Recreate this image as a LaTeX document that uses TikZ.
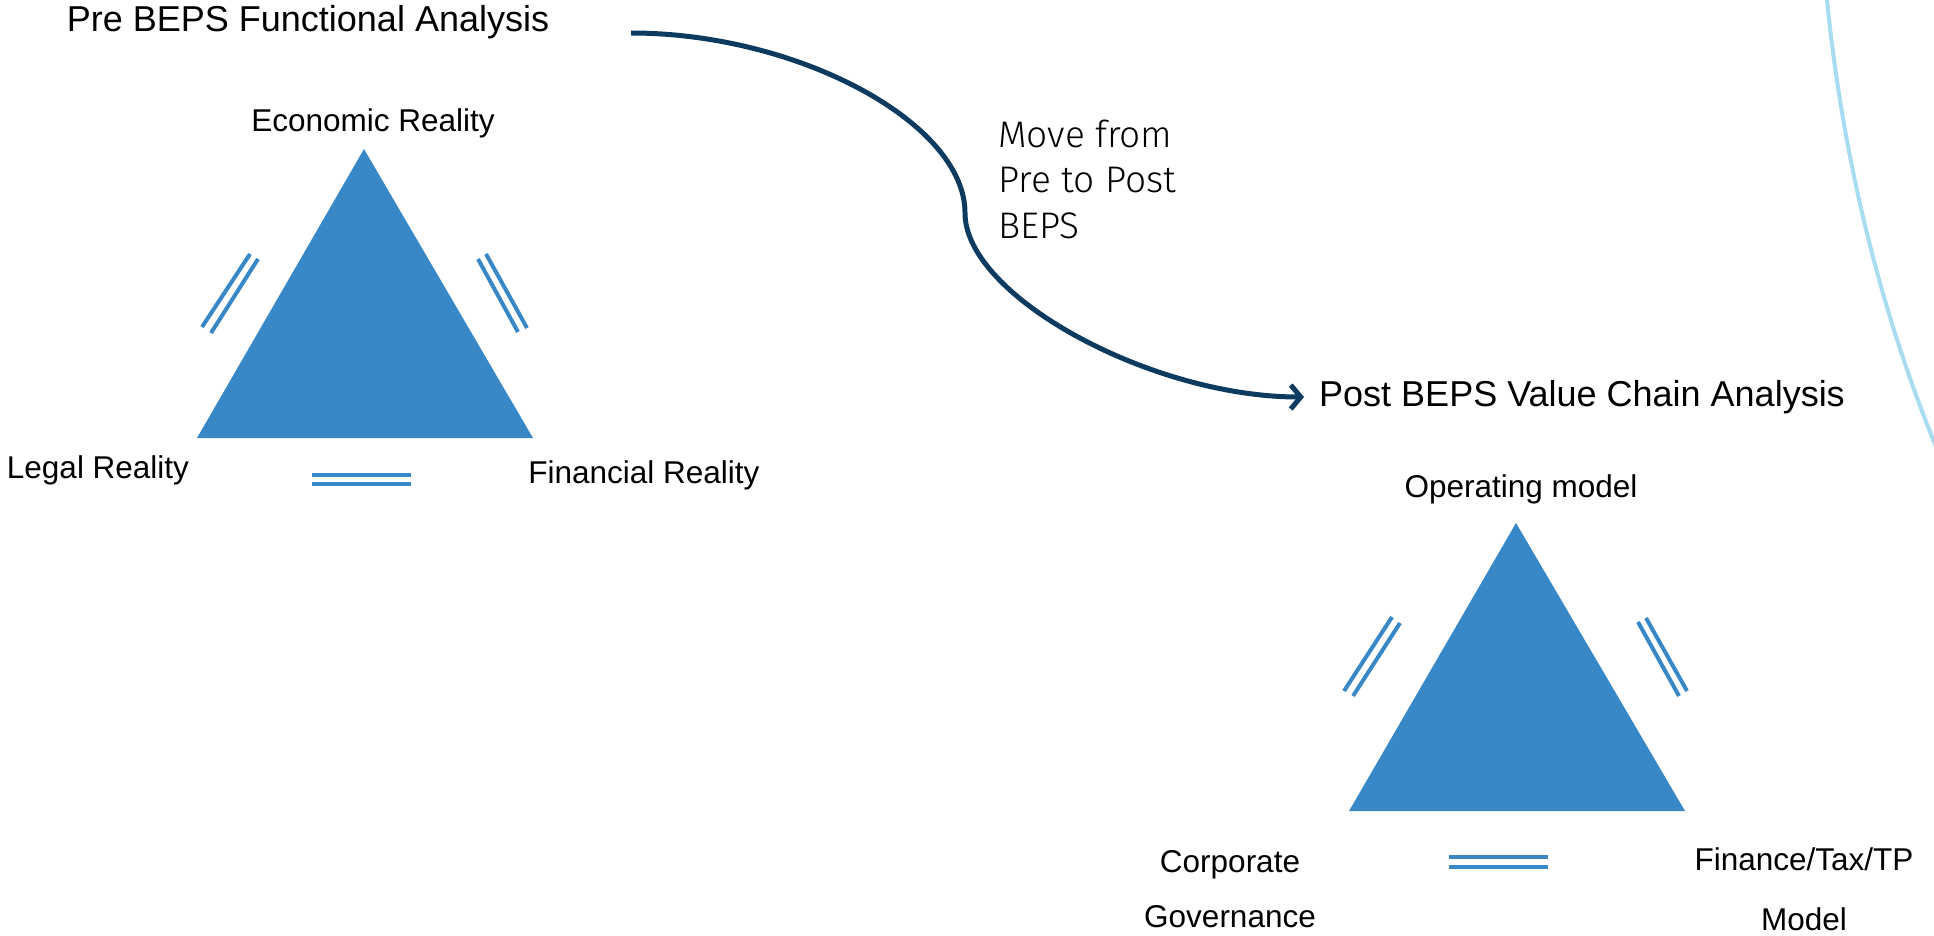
\documentclass[tikz,border=0pt]{standalone}
\usepackage{fontspec}
\setmainfont{Liberation Sans}
\newfontfamily\lightfont{Fira Sans Light}
\usetikzlibrary{arrows.meta}
\definecolor{triblue}{HTML}{3888C8}
\definecolor{navy}{HTML}{0D3A5F}
\definecolor{arcblue}{HTML}{A8DCF0}
\begin{document}
\begin{tikzpicture}[x=1pt,y=-1pt,
  tri/.style={fill=triblue,draw=none},
  eqline/.style={draw=triblue,line width=4pt},
  lbl/.style={font=\fontsize{31.5}{37}\selectfont,anchor=base,inner sep=0pt},
  ttl/.style={font=\fontsize{36}{43}\selectfont,anchor=base,inner sep=0pt},
  movetxt/.style={font=\lightfont\fontsize{37}{45}\selectfont,anchor=base west,inner sep=0pt},
  flow/.style={draw=navy,line width=5pt,-{Straight Barb[length=10pt,width=24pt,line width=5pt]}}
]
\useasboundingbox (0,0) rectangle (1934,936);
% light decorative arc
\begin{scope}
\clip (0,0) rectangle (1934,936);
\draw[arcblue,line width=4pt] (1826,-10) .. controls (1841,150) and (1880,320) .. (1950,480);
\end{scope}

% triangle 1
\coordinate (t1a) at (364,149);
\coordinate (t1r) at (533,438);
\coordinate (t1l) at (197,438);
\fill[tri] (t1a) -- (t1r) -- (t1l) -- cycle;
\draw[eqline] (202,327) -- (250,254);
\draw[eqline] (211,333) -- (258,259);
\draw[eqline] (478,259) -- (518,332);
\draw[eqline] (486,254) -- (527,328);
\draw[eqline] (312,475) -- (411,475);
\draw[eqline] (312,484) -- (411,484);

% triangle 2
\coordinate (t2a) at (1516,523);
\coordinate (t2r) at (1685,811);
\coordinate (t2l) at (1349,811);
\fill[tri] (t2a) -- (t2r) -- (t2l) -- cycle;
\draw[eqline] (1344,691) -- (1392,617);
\draw[eqline] (1353,696) -- (1400,623);
\draw[eqline] (1638,622) -- (1679,696);
\draw[eqline] (1646,618) -- (1687,691);
\draw[eqline] (1449,857) -- (1548,857);
\draw[eqline] (1449,867) -- (1548,867);

% texts
\node[ttl] (pre) at (308,32) {Pre BEPS Functional Analysis};
\node[lbl] (eco) at (373,132) {Economic Reality};
\node[lbl] (legal) at (98,478) {Legal Reality};
\node[lbl] (fin) at (644,483) {Financial Reality};
\node[ttl] (post) at (1582,406) {Post BEPS Value Chain Analysis};
\node[lbl] (op) at (1521,497) {Operating model};
\node[lbl] (corp) at (1230,872) {Corporate};
\node[lbl] (gov) at (1230,927) {Governance};
\node[lbl] (ftp) at (1804,870) {Finance/Tax/TP};
\node[lbl] (model) at (1804,930) {Model};
\node[movetxt] (mv1) at (998,148) {Move from};
\node[movetxt] (mv2) at (998,193) {Pre to Post};
\node[movetxt] (mv3) at (998,238) {BEPS};

% flow arrow
\coordinate (aS) at (631,33);
\coordinate (aM) at (965,213);
\coordinate (aE) at (1304,397);
\draw[flow] (aS) .. controls (798,33) and (965,123) .. (aM)
  .. controls (965,296) and (1151,397) .. (aE);
\end{tikzpicture}
\end{document}
